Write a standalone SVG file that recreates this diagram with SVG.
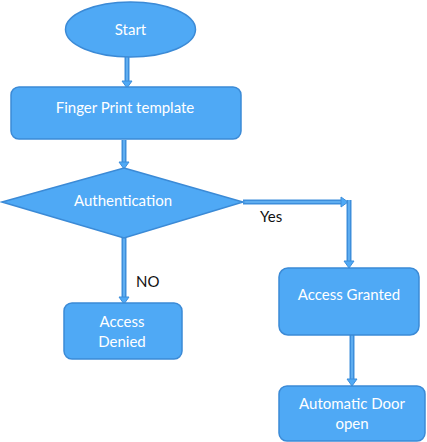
<svg xmlns="http://www.w3.org/2000/svg" width="427" height="442" viewBox="0 0 427 442">
<style>
.n{fill:#4fa9f5;stroke:#3b8ad6;stroke-width:1.5}
.t{fill:#ffffff;font-family:Lato,"Liberation Sans",sans-serif;font-size:15px;text-anchor:middle}
.l{fill:#111111;font-family:Lato,"Liberation Sans",sans-serif;font-size:15px}
.co{fill:none;stroke:#3d8edb;stroke-width:5}
.ci{fill:none;stroke:#6ab7f7;stroke-width:1.5}
.ah{fill:#4fa9f5;stroke:#3d8edb;stroke-width:1}
</style>
<rect width="427" height="442" fill="#ffffff"/>
<g id="connectors">
<path class="co" d="M127 57V83"/><path class="ci" d="M127 57V83"/>
<path class="ah" d="M122 81L127 88L132 81Z"/>
<path class="co" d="M124 140V164"/><path class="ci" d="M124 140V164"/>
<path class="ah" d="M119 162L124 169L129 162Z"/>
<path class="co" d="M243 202H343"/><path class="ci" d="M243 202H343"/>
<path class="ah" d="M341 197L348 202L341 207Z"/>
<path class="co" d="M349 200V263"/><path class="ci" d="M349 200V263"/>
<path class="ah" d="M344 261L349 268L354 261Z"/>
<path class="co" d="M124 238V299"/><path class="ci" d="M124 238V299"/>
<path class="ah" d="M119 297L124 304L129 297Z"/>
<path class="co" d="M352 335V381"/><path class="ci" d="M352 335V381"/>
<path class="ah" d="M347 379L352 386L357 379Z"/>
<text class="l" x="260" y="222">Yes</text>
<text class="l" x="136" y="287">NO</text>
</g>
<g id="start"><ellipse class="n" cx="130.5" cy="29.5" rx="65" ry="27.5"/><text class="t" x="130.5" y="35">Start</text></g>
<g id="finger"><rect class="n" x="11" y="87" width="230" height="52" rx="8"/><text class="t" x="125" y="113">Finger Print template</text></g>
<g id="auth"><path class="n" d="M124 168L243 202L124 238L2 202Z"/><text class="t" x="123" y="206">Authentication</text></g>
<g id="denied"><rect class="n" x="64" y="303" width="118" height="56" rx="8"/><text class="t" x="122" y="327">Access</text><text class="t" x="122" y="347">Denied</text></g>
<g id="granted"><rect class="n" x="279" y="268" width="140" height="67" rx="9"/><text class="t" x="349" y="300">Access Granted</text></g>
<g id="door"><rect class="n" x="279" y="386" width="146" height="55" rx="8"/><text class="t" x="352" y="409">Automatic Door</text><text class="t" x="352" y="429">open</text></g>
</svg>
